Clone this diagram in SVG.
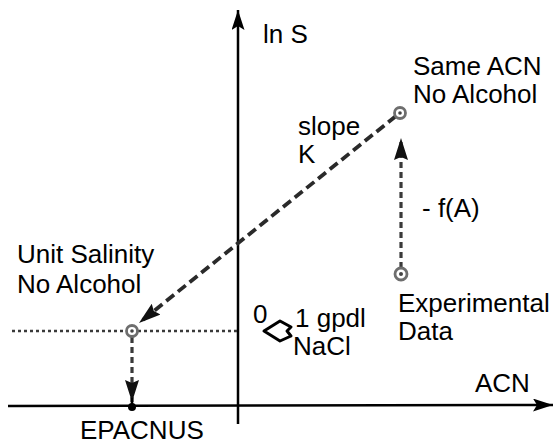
<svg xmlns="http://www.w3.org/2000/svg" width="554" height="444" viewBox="0 0 554 444">
<style>
text{font-family:"Liberation Sans",Arial,sans-serif;font-size:26px;fill:#000}
.axis{stroke:#000;stroke-width:2.5;fill:none}
.dash{stroke:#3a3a3a;stroke-width:3.2;fill:none;stroke-dasharray:6 4}
.slope{stroke:#2a2a2a;stroke-width:3.8;fill:none;stroke-dasharray:10 5}
.dot{stroke:#3a3a3a;stroke-width:2.5;fill:none;stroke-dasharray:3 3}
.ring{fill:#fff;stroke:#6e6e6e;stroke-width:2.8}
.core{fill:#444}
</style>
<defs>
<marker id="axhead" viewBox="0 0 20 13" refX="20" refY="6.5" markerWidth="20" markerHeight="13" markerUnits="userSpaceOnUse" orient="auto">
<path d="M0,0 L20,6.5 L0,13 L4,6.5 Z" fill="#000"/>
</marker>
<marker id="dhead" viewBox="0 0 22 14" refX="22" refY="7" markerWidth="22" markerHeight="14" markerUnits="userSpaceOnUse" orient="auto">
<path d="M0,0 L22,7 L0,14 L3,7 Z" fill="#111"/>
</marker>
</defs>
<g id="axes">
<line class="axis" x1="238" y1="424" x2="238" y2="10" marker-end="url(#axhead)"/>
<line class="axis" x1="8" y1="406" x2="553" y2="405" marker-end="url(#axhead)"/>
</g>
<g id="connectors">
<line class="dot" x1="12" y1="331" x2="238" y2="331"/>
<line class="slope" x1="396" y1="116" x2="139" y2="323" marker-end="url(#dhead)"/>
<line class="dash" x1="401" y1="268" x2="401" y2="138" marker-end="url(#dhead)"/>
<line class="dash" x1="132" y1="337" x2="132" y2="402" marker-end="url(#dhead)"/>
<line stroke="#000" stroke-width="2.5" x1="132" y1="398" x2="132" y2="407"/>
<path d="M264,331 L280,321 L291,327 L287,331 L291,336 L280,341 Z" fill="#fff" stroke="#000" stroke-width="3" stroke-linejoin="round"/>
</g>
<g id="node-unit-salinity">
<circle class="ring" cx="132" cy="331" r="5.5"/>
<circle class="core" cx="132" cy="331" r="1.8"/>
<text x="17" y="263">Unit Salinity</text>
<text x="17" y="293">No Alcohol</text>
</g>
<g id="node-same-acn">
<circle class="ring" cx="400" cy="113" r="5.5"/>
<circle class="core" cx="400" cy="113" r="1.8"/>
<text x="413" y="75">Same ACN</text>
<text x="413" y="103">No Alcohol</text>
</g>
<g id="node-experimental">
<circle class="ring" cx="401" cy="274" r="6"/>
<circle class="core" cx="401" cy="274" r="2"/>
<text x="398" y="312">Experimental</text>
<text x="398" y="340">Data</text>
</g>
<g id="node-epacnus">
<circle cx="132" cy="407" r="4" fill="#000"/>
<text x="80" y="439">EPACNUS</text>
</g>
<g id="labels">
<text x="263" y="43">ln S</text>
<text x="298" y="135">slope</text>
<text x="298" y="163">K</text>
<text x="422" y="217">- f(A)</text>
<text x="253" y="323">0</text>
<text x="295" y="327">1 gpdl</text>
<text x="293" y="355">NaCl</text>
<text x="475" y="392">ACN</text>
</g>
</svg>
